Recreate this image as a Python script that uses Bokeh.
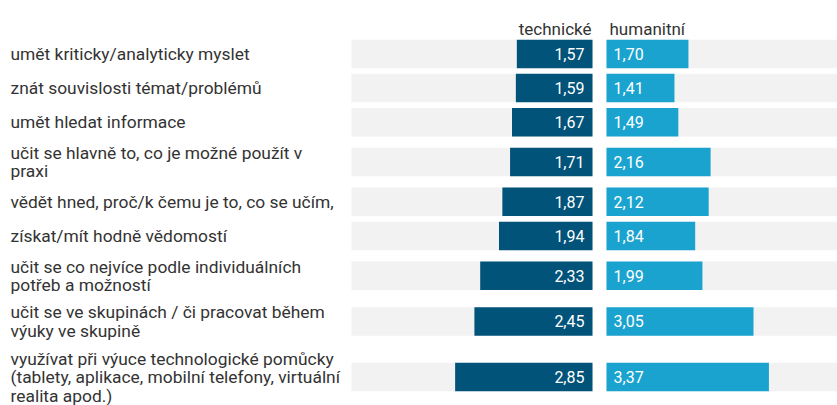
from bokeh.plotting import figure
from bokeh.models import Range1d, ColumnDataSource
from bokeh.embed import file_html
from bokeh.resources import INLINE
from bokeh.core.properties import value

# ---------------- data ----------------
labels = [
    "umět kriticky/analyticky myslet",
    "znát souvislosti témat/problémů",
    "umět hledat informace",
    "učit se hlavně to, co je možné použít v\npraxi",
    "vědět hned, proč/k čemu je to, co se učím,",
    "získat/mít hodně vědomostí",
    "učit se co nejvíce podle individuálních\npotřeb a možností",
    "učit se ve skupinách / či pracovat během\nvýuky ve skupině",
    "využívat při výuce technologické pomůcky\n(tablety, aplikace, mobilní telefony, virtuální\nrealita apod.)",
]
technicke = [1.57, 1.59, 1.67, 1.71, 1.87, 1.94, 2.33, 2.45, 2.85]
humanitni = [1.70, 1.41, 1.49, 2.16, 2.12, 1.84, 1.99, 3.05, 3.37]
series_names = ["technické", "humanitní"]
axis_max = 5

# ---------------- layout ----------------
W, H = 837, 405
TECH_ZERO = 592.0
HUM_ZERO = 606.0
PX_PER_UNIT = 48.2
BAR_H = 28.5
LINE_H = 20.0          # used for row block height
TEXT_LINE_H = 18.5     # spacing between wrapped label lines
GAP = 5.6
FIRST_TOP = 36.4
FONT = value("Roboto")
LABEL_FS = "17.4px"
HEAD_FS = "17px"
VAL_FS = "16px"
DARK = "#01537a"
LIGHT = "#1ba3cf"
BAND = "#f2f2f2"
TXT = "#333333"

# row centres from label line counts
nlines = [len(l.split("\n")) for l in labels]
centers = []
y = FIRST_TOP
for n in nlines:
    block = max(BAR_H, n * LINE_H) + GAP
    centers.append(y + block / 2)
    y += block

p = figure(width=W, height=H,
           x_range=Range1d(0, W), y_range=Range1d(H, 0),
           output_backend="svg", toolbar_location=None, min_border=0,
           x_axis_location=None, y_axis_location=None,
           outline_line_color=None, background_fill_color="white",
           border_fill_color="white")
p.grid.visible = False
p.extra_x_ranges = {
    "tech": Range1d(TECH_ZERO / PX_PER_UNIT, (TECH_ZERO - W) / PX_PER_UNIT),
    "hum": Range1d(-HUM_ZERO / PX_PER_UNIT, (W - HUM_ZERO) / PX_PER_UNIT),
}

n = len(labels)
src = ColumnDataSource(dict(
    y=centers,
    tech=technicke,
    hum=humanitni,
    tech_lbl=[f"{v:.2f}".replace(".", ",") for v in technicke],
    hum_lbl=[f"{v:.2f}".replace(".", ",") for v in humanitni],
    zero=[0] * n,
    full=[axis_max] * n,
))

# background bands
for rn in ("tech", "hum"):
    p.hbar(y="y", left="zero", right="full", height=BAR_H, source=src,
           x_range_name=rn, fill_color=BAND, line_color=None)

# bars
p.hbar(y="y", left="zero", right="tech", height=BAR_H, source=src,
       x_range_name="tech", fill_color=DARK, line_color=None)
p.hbar(y="y", left="zero", right="hum", height=BAR_H, source=src,
       x_range_name="hum", fill_color=LIGHT, line_color=None)

# value labels
p.text(x="zero", y="y", text="tech_lbl", source=src, x_range_name="tech",
       x_offset=-8, text_align="right", text_baseline="middle",
       text_font=FONT, text_font_size=VAL_FS, text_color="white")
p.text(x="zero", y="y", text="hum_lbl", source=src, x_range_name="hum",
       x_offset=7, text_align="left", text_baseline="middle",
       text_font=FONT, text_font_size=VAL_FS, text_color="white")

# headers
p.text(x=[0], y=[28.5], text=[series_names[0]], x_range_name="tech",
       x_offset=-1, text_align="right", text_baseline="alphabetic",
       text_font=FONT, text_font_size=HEAD_FS, text_color=TXT)
p.text(x=[0], y=[28.5], text=[series_names[1]], x_range_name="hum",
       x_offset=3, text_align="left", text_baseline="alphabetic",
       text_font=FONT, text_font_size=HEAD_FS, text_color=TXT)

# row labels (one glyph per line)
lx, ly, lt = [], [], []
for c, lab in zip(centers, labels):
    parts = lab.split("\n")
    k = len(parts)
    for i, part in enumerate(parts):
        lx.append(10)
        ly.append(c + (i - (k - 1) / 2) * TEXT_LINE_H)
        lt.append(part)
p.text(x=lx, y=ly, text=lt, text_align="left", text_baseline="middle",
       text_font=FONT, text_font_size=LABEL_FS, text_color=TXT)

open("out.html", "w").write(file_html(p, INLINE))
